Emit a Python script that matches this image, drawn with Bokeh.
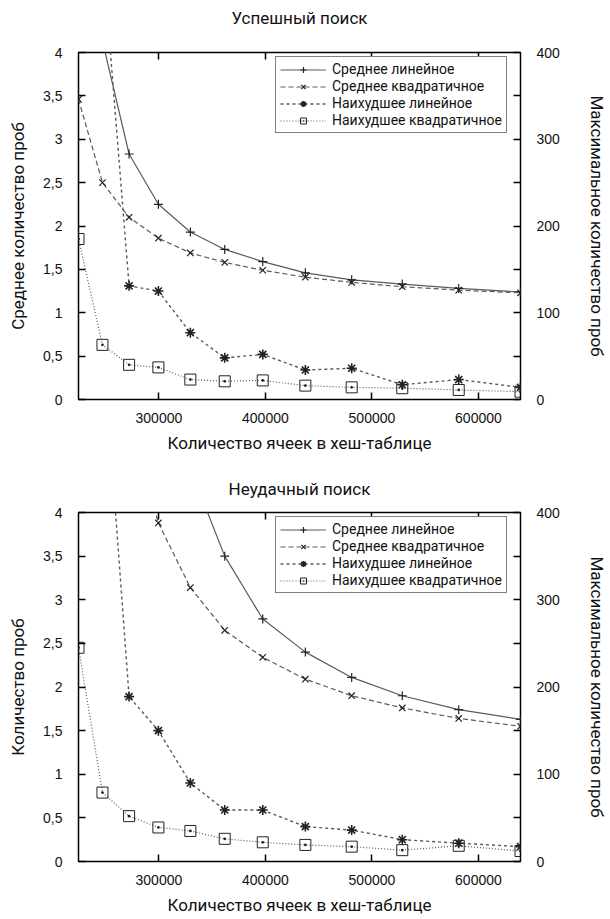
from bokeh.plotting import figure
from bokeh.models import (Range1d, LinearAxis, FixedTicker, Legend, LegendItem,
                          CustomJSTickFormatter)
from bokeh.layouts import column
from bokeh.embed import file_html
from bokeh.resources import INLINE

# ---- data ----
cells = [224500, 247000, 272000, 299500, 329500, 361800, 397500, 437500,
         481000, 528500, 581500, 639500]

# successful search
s_avg_lin = [9.7, 4.13, 2.83, 2.25, 1.93, 1.73, 1.59, 1.46, 1.38, 1.33, 1.28, 1.24]
s_avg_quad = [3.46, 2.50, 2.10, 1.86, 1.69, 1.58, 1.49, 1.41, 1.35, 1.30, 1.26, 1.23]
s_worst_lin = [800, 515, 131, 125, 77, 48, 52, 34, 36, 17, 23, 14]
s_worst_quad = [185, 63, 40, 37, 23, 21, 22, 16, 14, 13, 11, 9]

# unsuccessful search
u_avg_lin = [60, 18, 10, 6.3, 4.5, 3.50, 2.78, 2.40, 2.11, 1.90, 1.74, 1.63]
u_avg_quad = [20.5, 8.3, 5.1, 3.88, 3.14, 2.65, 2.34, 2.09, 1.90, 1.76, 1.64, 1.55]
u_worst_lin = [900, 603, 189, 150, 90, 59, 59, 40, 36, 25, 21, 17]
u_worst_quad = [245, 79, 52, 39, 35, 26, 22, 19, 17, 13, 18, 12]

series_names = ["Среднее линейное", "Среднее квадратичное",
                "Наихудшее линейное", "Наихудшее квадратичное"]
x_ticks = [300000, 400000, 500000, 600000]
left_ticks = [0, 0.5, 1, 1.5, 2, 2.5, 3, 3.5, 4]
right_ticks = [0, 50, 100, 150, 200, 250, 300, 350, 400]

COND = "Roboto"
TICKF = "Liberation Sans"
LINE_C = "#5a5a5a"
MARK_C = "#222222"


def style_axis(ax):
    ax.axis_line_color = None
    ax.major_tick_in = 7
    ax.major_tick_out = 0
    ax.minor_tick_line_color = None
    ax.major_tick_line_color = "black"
    ax.major_tick_line_width = 1.5
    ax.major_label_text_font = TICKF
    ax.major_label_text_font_size = "14px"
    ax.major_label_text_color = "#111111"
    ax.axis_label_text_font = COND
    ax.axis_label_text_font_size = "17px"
    ax.axis_label_text_font_style = "normal"
    ax.axis_label_text_color = "#111111"


def panel(title, ylabel, avg_lin, avg_quad, worst_lin, worst_quad, height, bt, bb,
          title_gap, legend_loc):
    p = figure(width=610, height=height, output_backend="svg", toolbar_location=None,
               x_range=Range1d(cells[0], cells[-1]), y_range=Range1d(0, 4),
               min_border_left=78, min_border_right=90, min_border_top=bt,
               min_border_bottom=bb, background_fill_color="white",
               border_fill_color="white")
    p.extra_y_ranges = {"max": Range1d(0, 400)}
    p.grid.visible = False
    p.outline_line_color = "black"
    p.outline_line_width = 1.5

    xa = p.xaxis[0]
    xa.ticker = FixedTicker(ticks=x_ticks)
    xa.formatter = CustomJSTickFormatter(code="return String(Math.round(tick));")
    xa.axis_label = "Количество ячеек в хеш-таблице"
    style_axis(xa)
    xa.major_label_standoff = 13
    xa.axis_label_standoff = 7

    ya = p.yaxis[0]
    ya.ticker = FixedTicker(ticks=left_ticks)
    ya.formatter = CustomJSTickFormatter(code="return String(tick).replace('.', ',');")
    ya.axis_label = ylabel
    style_axis(ya)
    ya.major_label_standoff = 16
    ya.axis_label_standoff = 12

    ra = LinearAxis(y_range_name="max", ticker=FixedTicker(ticks=right_ticks),
                    formatter=CustomJSTickFormatter(
                        code="return (tick % 100 == 0) ? String(tick) : '';"),
                    axis_label="Максимальное количество проб")
    style_axis(ra)
    ra.major_label_standoff = 16
    ra.axis_label_standoff = 24
    p.add_layout(ra, "right")

    # mirrored ticks on the top border; its axis label carries the panel title
    ta = LinearAxis(ticker=FixedTicker(ticks=x_ticks),
                    formatter=CustomJSTickFormatter(code="return '';"),
                    axis_label=title)
    style_axis(ta)
    ta.major_label_text_font_size = "1px"
    ta.major_label_standoff = 0
    ta.axis_label_standoff = title_gap
    p.add_layout(ta, "above")

    l1 = p.line(cells, avg_lin, line_color=LINE_C, line_width=1.2)
    m1 = p.scatter(cells, avg_lin, marker="cross", size=9, line_color=MARK_C,
                   line_width=1.2)
    l2 = p.line(cells, avg_quad, line_color=LINE_C, line_width=1.2, line_dash="5 3")
    m2 = p.scatter(cells, avg_quad, marker="x", size=9, line_color=MARK_C,
                   line_width=1.2)
    l3 = p.line(cells, worst_lin, y_range_name="max", line_color=LINE_C,
                line_width=1.4, line_dash="3 3")
    m3 = p.scatter(cells, worst_lin, y_range_name="max", marker="asterisk", size=10,
                   line_color=MARK_C, line_width=1.6)
    l4 = p.line(cells, worst_quad, y_range_name="max", line_color=LINE_C,
                line_width=1.2, line_dash="1 2")
    m4 = p.scatter(cells, worst_quad, y_range_name="max", marker="square_dot", size=11,
                   line_color=MARK_C, fill_color=None, line_width=1.0)

    items = [LegendItem(label=series_names[0], renderers=[l1, m1]),
             LegendItem(label=series_names[1], renderers=[l2, m2]),
             LegendItem(label=series_names[2], renderers=[l3, m3]),
             LegendItem(label=series_names[3], renderers=[l4, m4])]
    leg = Legend(items=items, location=legend_loc)
    leg.border_line_color = "black"
    leg.border_line_width = 1.5
    leg.background_fill_alpha = 1.0
    leg.label_text_font = COND
    leg.label_text_font_size = "14px"
    leg.label_text_line_height = 1.0
    leg.label_text_color = "#111111"
    leg.label_height = 15
    leg.glyph_height = 15
    leg.glyph_width = 46
    leg.spacing = 1
    leg.padding = 4
    leg.label_standoff = 6
    p.add_layout(leg, "center")
    return p


p1 = panel("Успешный поиск", "Среднее количество проб", s_avg_lin, s_avg_quad,
           s_worst_lin, s_worst_quad, 460, 52, 61, 25, (197, 266))
p2 = panel("Неудачный поиск", "Количество проб", u_avg_lin, u_avg_quad,
           u_worst_lin, u_worst_quad, 459, 52, 58, 14, (197, 268))

layout = column(p1, p2, spacing=0)
open("out.html", "w").write(file_html(layout, INLINE))
